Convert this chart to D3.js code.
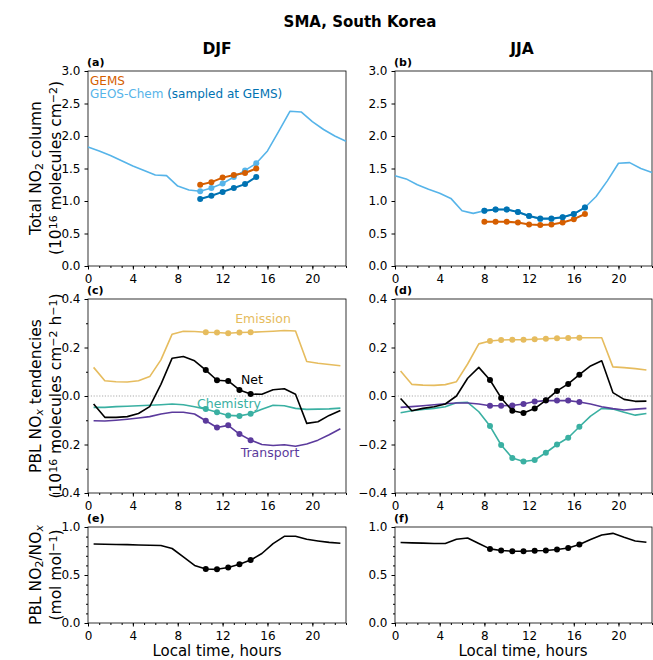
<!DOCTYPE html>
<html>
<head>
<meta charset="utf-8">
<script src="https://cdn.jsdelivr.net/npm/d3@7"></script>
<style>
body { margin: 0; background: #fff; }
text { font-family: "DejaVu Sans", sans-serif; }
</style>
</head>
<body>
<svg width="653" height="660"></svg>
<script>
// hours of the day (column) and PBL half-hour points
const colHours = [0,1,2,3,4,5,6,7,8,9,10,11,12,13,14,15,16,17,18,19,20,21,22,23];
const pblHours = [0.5,1.5,2.5,3.5,4.5,5.5,6.5,7.5,8.5,9.5,10.5,11.5,12.5,13.5,14.5,15.5,16.5,17.5,18.5,19.5,20.5,21.5,22.5];
const xTicks = [0,4,8,12,16,20];

// (a) DJF total NO2 column
const djfGC = [1.83,1.77,1.70,1.62,1.54,1.47,1.40,1.39,1.23,1.17,1.15,1.20,1.27,1.37,1.47,1.58,1.77,2.07,2.38,2.37,2.22,2.10,2.00,1.92];
const djfObsHours = [10,11,12,13,14,15];
const djfGEMS = [1.25,1.29,1.36,1.40,1.43,1.50];
const djfGCsampled = [1.03,1.08,1.14,1.20,1.26,1.37];

// (b) JJA total NO2 column
const jjaGC = [1.39,1.34,1.25,1.18,1.12,1.04,0.85,0.81,0.85,0.87,0.87,0.83,0.77,0.72,0.72,0.75,0.80,0.90,1.07,1.31,1.58,1.59,1.50,1.44];
const jjaObsHours = [8,9,10,11,12,13,14,15,16,17];
const jjaGEMS = [0.68,0.68,0.68,0.67,0.64,0.63,0.64,0.67,0.72,0.80];
const jjaGCsampled = [0.85,0.87,0.87,0.83,0.77,0.73,0.73,0.75,0.80,0.90];

// (c) DJF PBL NOx tendencies
const djfEmis = [0.118,0.063,0.059,0.058,0.063,0.080,0.149,0.255,0.267,0.266,0.263,0.262,0.259,0.262,0.263,0.265,0.267,0.270,0.268,0.142,0.135,0.130,0.125];
const djfNet = [-0.033,-0.088,-0.088,-0.085,-0.072,-0.044,0.048,0.156,0.163,0.145,0.107,0.065,0.062,0.025,0.008,0.007,0.026,0.030,0.007,-0.113,-0.106,-0.080,-0.060];
const djfChem = [-0.047,-0.047,-0.044,-0.042,-0.040,-0.038,-0.036,-0.033,-0.036,-0.044,-0.054,-0.067,-0.080,-0.082,-0.073,-0.055,-0.038,-0.040,-0.051,-0.055,-0.054,-0.053,-0.050];
const djfTrans = [-0.102,-0.103,-0.100,-0.096,-0.091,-0.085,-0.074,-0.067,-0.067,-0.074,-0.102,-0.130,-0.121,-0.157,-0.182,-0.200,-0.204,-0.201,-0.207,-0.198,-0.182,-0.160,-0.135];
const djfDotHours = [10.5,11.5,12.5,13.5,14.5];

// (d) JJA PBL NOx tendencies
const jjaEmis = [0.103,0.048,0.045,0.044,0.047,0.059,0.132,0.215,0.227,0.231,0.232,0.232,0.234,0.236,0.238,0.239,0.240,0.240,0.240,0.120,0.117,0.113,0.107];
const jjaNet = [-0.010,-0.061,-0.051,-0.044,-0.033,0.000,0.073,0.118,0.066,-0.008,-0.061,-0.070,-0.052,-0.018,0.021,0.050,0.088,0.124,0.145,0.014,-0.014,-0.022,-0.021];
const jjaChem = [-0.069,-0.061,-0.055,-0.051,-0.044,-0.028,-0.026,-0.065,-0.124,-0.202,-0.256,-0.270,-0.264,-0.234,-0.200,-0.172,-0.127,-0.083,-0.051,-0.054,-0.067,-0.079,-0.072];
const jjaTrans = [-0.047,-0.044,-0.040,-0.036,-0.032,-0.029,-0.029,-0.033,-0.040,-0.040,-0.039,-0.033,-0.023,-0.019,-0.019,-0.019,-0.025,-0.033,-0.044,-0.052,-0.058,-0.054,-0.051];
const jjaDotHours = [8.5,9.5,10.5,11.5,12.5,13.5,14.5,15.5,16.5];

// (e),(f) PBL NO2/NOx
const djfRatio = [0.823,0.820,0.818,0.816,0.813,0.810,0.807,0.776,0.689,0.600,0.562,0.559,0.579,0.613,0.655,0.724,0.827,0.903,0.903,0.872,0.855,0.840,0.830];
const jjaRatio = [0.838,0.835,0.832,0.828,0.828,0.872,0.886,0.828,0.772,0.755,0.748,0.748,0.752,0.755,0.765,0.782,0.817,0.869,0.917,0.934,0.893,0.855,0.841];

const colTicks = [0,0.5,1,1.5,2,2.5,3];
const tendTicks = [-0.4,-0.2,0,0.2,0.4];
const ratioTicks = [0,0.5,1];

const C = {
  gems: "#D55E00", gc: "#56B4E9", gcs: "#0072B2",
  emis: "#E6BC5E", net: "#000000", chem: "#3AB0A2", trans: "#5B3A9C"
};

const svg = d3.select("svg");

const cols = [[88, 346], [395, 652]];
const rows = [[71, 266], [299, 493], [527, 623]];

// titles
svg.append("text").attr("x", 360).attr("y", 27).attr("text-anchor", "middle")
  .style("font-size", "15px").style("font-weight", "bold").text("SMA, South Korea");
svg.append("text").attr("x", 217).attr("y", 54).attr("text-anchor", "middle")
  .style("font-size", "15.5px").style("font-weight", "bold").text("DJF");
svg.append("text").attr("x", 522).attr("y", 54).attr("text-anchor", "middle")
  .style("font-size", "15.5px").style("font-weight", "bold").text("JJA");

function makePanel(ci, ri, yDomain, yTicks, yMinor, fmt, tag) {
  const [x0, x1] = cols[ci], [y0, y1] = rows[ri];
  const x = d3.scaleLinear().domain([0, 23]).range([x0, x1]);
  const y = d3.scaleLinear().domain(yDomain).range([y1, y0]);
  const g = svg.append("g");

  // minor ticks
  g.append("g").attr("transform", `translate(0,${y1})`)
    .call(d3.axisBottom(x).tickValues(colHours).tickSize(2).tickFormat(""))
    .call(a => a.select(".domain").remove());
  if (yMinor) {
    g.append("g").attr("transform", `translate(${x0},0)`)
      .call(d3.axisLeft(y).tickValues(yMinor).tickSize(2).tickFormat(""))
      .call(a => a.select(".domain").remove());
  }
  // major ticks
  g.append("g").attr("transform", `translate(0,${y1})`)
    .call(d3.axisBottom(x).tickValues(xTicks).tickSize(3.5).tickPadding(5))
    .call(a => a.select(".domain").remove())
    .selectAll("text").style("font-size", "12px").attr("fill", "#000");
  g.append("g").attr("transform", `translate(${x0},0)`)
    .call(d3.axisLeft(y).tickValues(yTicks).tickSize(3.5).tickPadding(4).tickFormat(d3.format(fmt)))
    .call(a => a.select(".domain").remove())
    .selectAll("text").style("font-size", "12px").attr("fill", "#000");

  g.append("rect").attr("x", x0).attr("y", y0).attr("width", x1 - x0).attr("height", y1 - y0)
    .attr("fill", "none").attr("stroke", "#000").attr("stroke-width", 0.8);

  svg.append("text").attr("x", x0 - 1).attr("y", y0 - 5)
    .style("font-size", "11px").style("font-weight", "bold").text(tag);

  const plot = g.append("g");
  return { x, y, plot };
}

function drawLine(p, xs, ys, color, w) {
  p.plot.append("path").datum(xs.map((h, i) => [h, ys[i]]))
    .attr("fill", "none").attr("stroke", color).attr("stroke-width", w || 1.6)
    .attr("stroke-linejoin", "round")
    .attr("d", d3.line().x(d => p.x(d[0])).y(d => p.y(d[1])));
}
function drawDots(p, xs, ys, color) {
  p.plot.selectAll(null).data(xs.map((h, i) => [h, ys[i]])).enter()
    .append("circle").attr("cx", d => p.x(d[0])).attr("cy", d => p.y(d[1]))
    .attr("r", 3).attr("fill", color);
}
function pick(hours, vals, want) {
  return want.map(h => vals[hours.indexOf(h)]);
}

// ---- row 1: total NO2 column
const colMinor = null;
const pa = makePanel(0, 0, [0, 3], colTicks, colMinor, ".1f", "(a)");
drawLine(pa, colHours, djfGC, C.gc);
drawDots(pa, djfObsHours, pick(colHours, djfGC, djfObsHours), C.gc);
drawLine(pa, djfObsHours, djfGEMS, C.gems, 2);
drawDots(pa, djfObsHours, djfGEMS, C.gems);
drawLine(pa, djfObsHours, djfGCsampled, C.gcs, 2);
drawDots(pa, djfObsHours, djfGCsampled, C.gcs);

const leg = svg.append("g").style("font-size", "12px");
leg.append("text").attr("x", 90).attr("y", 85).attr("fill", C.gems).text("GEMS");
const l2 = leg.append("text").attr("x", 90).attr("y", 98);
l2.append("tspan").attr("fill", C.gc).text("GEOS-Chem ");
l2.append("tspan").attr("fill", C.gcs).text("(sampled at GEMS)");

const pb = makePanel(1, 0, [0, 3], colTicks, colMinor, ".1f", "(b)");
drawLine(pb, colHours, jjaGC, C.gc);
drawDots(pb, jjaObsHours, pick(colHours, jjaGC, jjaObsHours), C.gc);
drawLine(pb, jjaObsHours, jjaGEMS, C.gems, 2);
drawDots(pb, jjaObsHours, jjaGEMS, C.gems);
drawLine(pb, jjaObsHours, jjaGCsampled, C.gcs, 2);
drawDots(pb, jjaObsHours, jjaGCsampled, C.gcs);

// ---- row 2: tendencies
const tendMinor = [-0.3,-0.1,0.1,0.3];
function tendPanel(ci, tag, emis, net, chem, trans, dotHours) {
  const p = makePanel(ci, 1, [-0.4, 0.4], tendTicks, tendMinor, ".1f", tag);
  p.plot.append("line").attr("x1", p.x(0)).attr("x2", p.x(23))
    .attr("y1", p.y(0)).attr("y2", p.y(0))
    .attr("stroke", "#888").attr("stroke-width", 0.7).attr("stroke-dasharray", "1.2,1.6");
  [[emis, C.emis], [chem, C.chem], [trans, C.trans], [net, C.net]].forEach(([vals, col]) => {
    drawLine(p, pblHours, vals, col);
    drawDots(p, dotHours, pick(pblHours, vals, dotHours), col);
  });
  return p;
}
const pc = tendPanel(0, "(c)", djfEmis, djfNet, djfChem, djfTrans, djfDotHours);
const pd = tendPanel(1, "(d)", jjaEmis, jjaNet, jjaChem, jjaTrans, jjaDotHours);

const lab = svg.append("g").style("font-size", "12.5px").attr("text-anchor", "middle");
lab.append("text").attr("x", 263).attr("y", 323).attr("fill", C.emis).text("Emission");
lab.append("text").attr("x", 252).attr("y", 384).attr("fill", C.net).text("Net");
lab.append("text").attr("x", 229).attr("y", 408).attr("fill", C.chem).text("Chemistry");
lab.append("text").attr("x", 270).attr("y", 457).attr("fill", C.trans).text("Transport");

// ---- row 3: NO2/NOx ratio
const ratioMinor = [0.1,0.2,0.3,0.4,0.6,0.7,0.8,0.9];
const pe = makePanel(0, 2, [0, 1], ratioTicks, ratioMinor, ".1f", "(e)");
drawLine(pe, pblHours, djfRatio, "#000");
drawDots(pe, djfDotHours, pick(pblHours, djfRatio, djfDotHours), "#000");
const pf = makePanel(1, 2, [0, 1], ratioTicks, ratioMinor, ".1f", "(f)");
drawLine(pf, pblHours, jjaRatio, "#000");
drawDots(pf, jjaDotHours, pick(pblHours, jjaRatio, jjaDotHours), "#000");

// x labels
[217, 523].forEach(cx => {
  svg.append("text").attr("x", cx).attr("y", 656).attr("text-anchor", "middle")
    .style("font-size", "15px").text("Local time, hours");
});

// y labels (two lines, rotated)
function yLabel(cy, line1, line2) {
  const g = svg.append("g").attr("transform", `translate(0,${cy}) rotate(-90)`)
    .style("font-size", "15.5px").attr("text-anchor", "middle");
  [[line1, 41], [line2, 61]].forEach(([parts, yy]) => {
    const t = g.append("text").attr("x", 0).attr("y", yy);
    parts.forEach(pt => {
      const s = t.append("tspan").text(pt[0]);
      if (pt[1] === "sub") s.attr("baseline-shift", "-22%").style("font-size", "11px");
      if (pt[1] === "sup") s.attr("baseline-shift", "38%").style("font-size", "11px");
      if (pt[2]) s.style("font-style", "italic");
    });
  });
}
yLabel(168,
  [["Total NO"], ["2", "sub"], [" column"]],
  [["(10"], ["16", "sup"], [" molecules cm"], ["\u22122", "sup"], [")"]]);
yLabel(396,
  [["PBL NO"], ["x", "sub", true], [" tendencies"]],
  [["(10"], ["16", "sup"], [" molecules cm"], ["\u22122", "sup"], [" h"], ["\u22121", "sup"], [")"]]);
yLabel(575,
  [["PBL NO"], ["2", "sub"], ["/NO"], ["x", "sub", true]],
  [["(mol mol"], ["\u22121", "sup"], [")"]]);
</script>
</body>
</html>
